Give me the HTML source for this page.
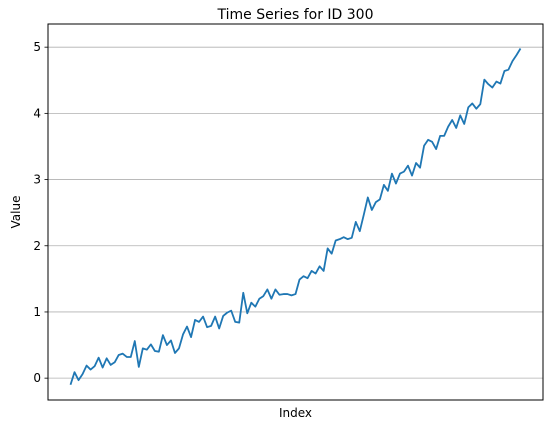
<!DOCTYPE html>
<html><head><meta charset="utf-8"><style>
body{margin:0;background:#fff;font-family:"Liberation Sans","DejaVu Sans",sans-serif;}
svg text{font-family:"DejaVu Sans","Liberation Sans",sans-serif;}
</style></head><body>
<svg id="chart" width="554" height="431" viewBox="0 0 554 431" xmlns="http://www.w3.org/2000/svg">
<rect width="554" height="431" fill="#fff"/>
<text x="295.5" y="19" text-anchor="middle" font-size="14" fill="#000">Time Series for ID 300</text>
<g id="grid"></g>
<g id="yticks"></g>
<path id="line" fill="none" stroke="#1f77b4" stroke-width="1.8" stroke-linejoin="round"/>
<rect x="48" y="24" width="495" height="376" fill="none" stroke="#000" stroke-width="1"/>
<text x="295.5" y="417" text-anchor="middle" font-size="12">Index</text>
<text x="20" y="212" text-anchor="middle" font-size="12" transform="rotate(-90 20 212)">Value</text>
</svg>
<script>
const values = [-0.1,0.09,-0.03,0.06,0.19,0.13,0.18,0.31,0.16,0.3,0.2,0.24,0.35,0.37,0.32,0.32,0.56,0.17,0.45,0.43,0.51,0.41,0.4,0.65,0.5,0.57,0.38,0.45,0.66,0.78,0.62,0.88,0.85,0.93,0.77,0.79,0.93,0.75,0.94,0.99,1.02,0.85,0.84,1.29,0.98,1.14,1.08,1.2,1.24,1.34,1.2,1.34,1.26,1.27,1.27,1.25,1.27,1.49,1.54,1.51,1.62,1.58,1.69,1.62,1.96,1.88,2.08,2.1,2.13,2.1,2.12,2.36,2.22,2.47,2.73,2.54,2.66,2.7,2.92,2.83,3.09,2.94,3.09,3.12,3.21,3.06,3.25,3.18,3.51,3.6,3.57,3.46,3.66,3.66,3.8,3.9,3.78,3.97,3.84,4.09,4.15,4.07,4.14,4.51,4.44,4.39,4.48,4.45,4.64,4.66,4.79,4.88,4.98];
const yTicks = [0,1,2,3,4,5];
const yTickLabels = ["0","1","2","3","4","5"];
const NS="http://www.w3.org/2000/svg";
const L=48,R=543,T=24,B=400;
const n=values.length;
const xPad=(n-1)*0.05;
function xs(i){return L+(i+xPad)/((n-1)+2*xPad)*(R-L);}
const yMin=-0.33,yMax=5.35;
function ys(v){return B-(v-yMin)/(yMax-yMin)*(B-T);}
const grid=document.getElementById('grid'),yt=document.getElementById('yticks');
yTicks.forEach((t,k)=>{
  const y=ys(t);
  const g=document.createElementNS(NS,'line');
  g.setAttribute('x1',L);g.setAttribute('x2',R);g.setAttribute('y1',y);g.setAttribute('y2',y);
  g.setAttribute('stroke','#b0b0b0');g.setAttribute('stroke-width','0.8');
  
  
  grid.appendChild(g);
  const tk=document.createElementNS(NS,'line');
  tk.setAttribute('x1',L-3.5);tk.setAttribute('x2',L);tk.setAttribute('y1',y);tk.setAttribute('y2',y);
  tk.setAttribute('stroke','#000');tk.setAttribute('stroke-width','0.8');
  
  
  yt.appendChild(tk);
  const tx=document.createElementNS(NS,'text');
  tx.setAttribute('x',L-7);tx.setAttribute('y',y+4);tx.setAttribute('text-anchor','end');tx.setAttribute('font-size','12');
  tx.textContent=yTickLabels[k];
  
  
  yt.appendChild(tx);
});
document.getElementById('line').setAttribute('d',values.map((v,i)=>(i?'L':'M')+xs(i).toFixed(2)+','+ys(v).toFixed(2)).join(''));
</script>
</body></html>
